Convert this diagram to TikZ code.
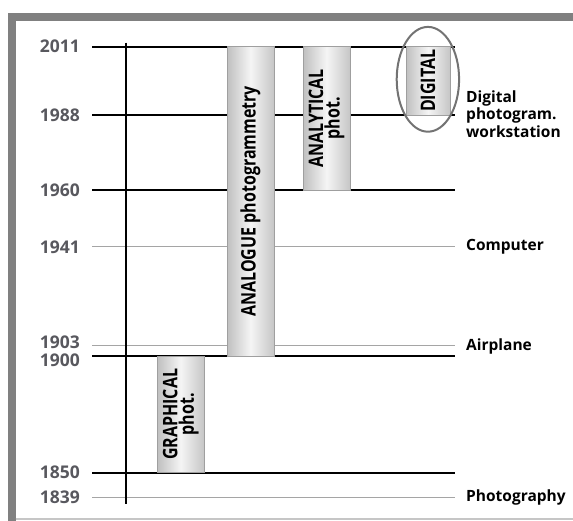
\documentclass[tikz,border=0pt]{standalone}
\usepackage{fontspec}
\setmainfont{Open Sans}
\newfontfamily\barfont[FakeStretch=0.8]{Open Sans}
\usetikzlibrary{positioning}
\definecolor{framegray}{RGB}{128,128,128}
\definecolor{yeargray}{RGB}{88,88,94}
\definecolor{minorgray}{RGB}{165,165,165}

\begin{document}
\begin{tikzpicture}[x=1pt,y=-1pt,
    every node/.style={inner sep=0pt},
    year/.style={anchor=east,text=yeargray,font=\fontsize{17.5}{17.5}\selectfont\bfseries},
    event/.style={anchor=west,align=left,font=\fontsize{15.5}{17.5}\selectfont\bfseries},
    major/.style={line width=2pt},
    minor/.style={line width=1pt,minorgray},
    era/.style={rotate=90,left color=gray!50,right color=gray!45,middle color=gray!8,
      draw=gray!75,line width=0.5pt,align=center,
      font=\barfont\fontsize{20}{16.5}\selectfont\bfseries}]
  \useasboundingbox (0,0) rectangle (573,521);
  % frame
  \fill[framegray] (8.3,13.3) rectangle (573,20.7);
  \fill[framegray] (8.3,13.3) rectangle (15.7,521);
  \draw[gray!45,line width=1.5pt] (15.7,519) -- (573,519);
  % time lines and years
  \foreach \yr/\py/\ly/\kind in {2011/46.7/46.7/major, 1988/115/115/major,
      1960/190/190/major, 1941/247/247/minor, 1903/345.7/342.5/minor,
      1900/356/360/major, 1850/472.7/472.7/major, 1839/497/497/minor}{%
    \draw[\kind] (92,\py) -- (455,\py);
    \node[year] (y\yr) at (80,\ly) {\yr};
  }
  \draw[line width=2pt] (126,42.7) -- (126,504);
  % eras
  \node[era,minimum width=115.7pt,minimum height=47pt] (graphical) at (180.7,414.3) {GRAPHICAL\\phot.};
  \node[era,minimum width=309.3pt,minimum height=47pt] (analogue) at (250.5,201.3) {ANALOGUE photogrammetry};
  \node[era,minimum width=143.3pt,minimum height=47pt] (analytical) at (326.5,118.3) {ANALYTICAL\\phot.};
  \node[era,minimum width=68.3pt,minimum height=44pt] (digital) at (428,80.8) {DIGITAL};
  \draw[gray!90!black,line width=2pt] (427.9,79.3) ellipse (31.2 and 52.4);
  % events
  \node[event] (workstation) at (466,114) {Digital\\photogram.\\workstation};
  \node[event] (computer) at (466,247) {Computer};
  \node[event] (airplane) at (466,346) {Airplane};
  \node[event] (photography) at (466,497) {Photography};
\end{tikzpicture}
\end{document}
